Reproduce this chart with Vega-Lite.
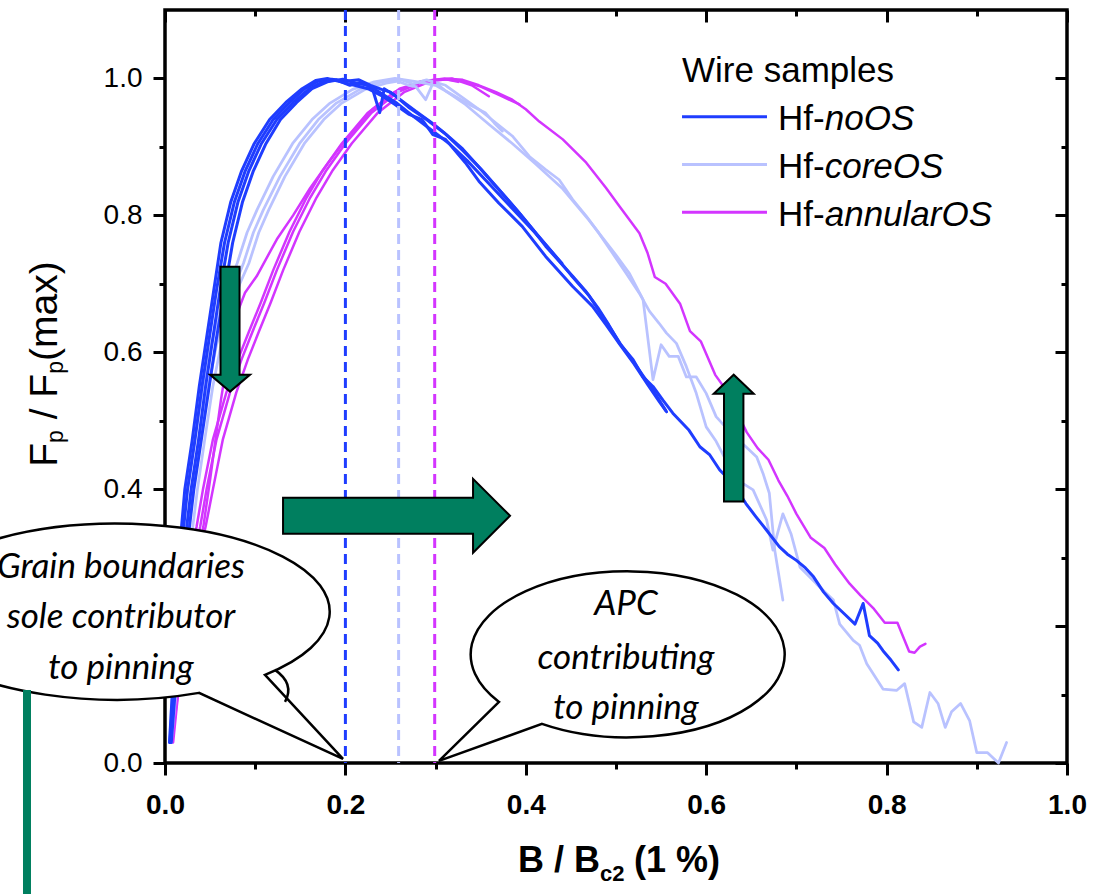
{
"$schema":"https://vega.github.io/schema/vega-lite/v6.json",
"width":902,"height":753,
"autosize":{"type":"none"},
"padding":{"left":165,"top":10,"right":34,"bottom":131},
"background":"white",
"config":{"view":{"stroke":"black","strokeWidth":3.5},"font":"Liberation Sans"},
"datasets":{
"curves":[
{"s":"annularOS","c":"a1","x":0.0074,"y":0.03},{"s":"annularOS","c":"a1","x":0.011,"y":0.082},{"s":"annularOS","c":"a1","x":0.016,"y":0.15},{"s":"annularOS","c":"a1","x":0.022,"y":0.22},{"s":"annularOS","c":"a1","x":0.03,"y":0.29},{"s":"annularOS","c":"a1","x":0.039,"y":0.345},{"s":"annularOS","c":"a1","x":0.046,"y":0.399},{"s":"annularOS","c":"a1","x":0.057,"y":0.472},{"s":"annularOS","c":"a1","x":0.072,"y":0.541},{"s":"annularOS","c":"a1","x":0.085,"y":0.59},{"s":"annularOS","c":"a1","x":0.097,"y":0.63},{"s":"annularOS","c":"a1","x":0.11,"y":0.672},{"s":"annularOS","c":"a1","x":0.124,"y":0.72},{"s":"annularOS","c":"a1","x":0.142,"y":0.776},{"s":"annularOS","c":"a1","x":0.161,"y":0.826},{"s":"annularOS","c":"a1","x":0.179,"y":0.866},{"s":"annularOS","c":"a1","x":0.2,"y":0.905},{"s":"annularOS","c":"a1","x":0.229,"y":0.95},{"s":"annularOS","c":"a1","x":0.258,"y":0.98},{"s":"annularOS","c":"a1","x":0.288,"y":0.996},{"s":"annularOS","c":"a1","x":0.31,"y":1.0},{"s":"annularOS","c":"a1","x":0.33,"y":0.998},{"s":"annularOS","c":"a1","x":0.348,"y":0.99},{"s":"annularOS","c":"a1","x":0.367,"y":0.98},{"s":"annularOS","c":"a1","x":0.385,"y":0.969},{"s":"annularOS","c":"a1","x":0.4,"y":0.955},{"s":"annularOS","c":"a1","x":0.415,"y":0.937},{"s":"annularOS","c":"a1","x":0.441,"y":0.911},{"s":"annularOS","c":"a1","x":0.467,"y":0.877},{"s":"annularOS","c":"a1","x":0.489,"y":0.84},{"s":"annularOS","c":"a1","x":0.504,"y":0.813},{"s":"annularOS","c":"a1","x":0.526,"y":0.774},{"s":"annularOS","c":"a1","x":0.535,"y":0.745},{"s":"annularOS","c":"a1","x":0.543,"y":0.71},{"s":"annularOS","c":"a1","x":0.555,"y":0.7},{"s":"annularOS","c":"a1","x":0.571,"y":0.671},{"s":"annularOS","c":"a1","x":0.582,"y":0.631},{"s":"annularOS","c":"a1","x":0.594,"y":0.616},{"s":"annularOS","c":"a1","x":0.61,"y":0.567},{"s":"annularOS","c":"a1","x":0.622,"y":0.545},{"s":"annularOS","c":"a1","x":0.633,"y":0.515},{"s":"annularOS","c":"a1","x":0.645,"y":0.483},{"s":"annularOS","c":"a1","x":0.657,"y":0.46},{"s":"annularOS","c":"a1","x":0.669,"y":0.443},{"s":"annularOS","c":"a1","x":0.68,"y":0.413},{"s":"annularOS","c":"a1","x":0.69,"y":0.39},{"s":"annularOS","c":"a1","x":0.7,"y":0.364},{"s":"annularOS","c":"a1","x":0.716,"y":0.329},{"s":"annularOS","c":"a1","x":0.731,"y":0.314},{"s":"annularOS","c":"a1","x":0.743,"y":0.29},{"s":"annularOS","c":"a1","x":0.759,"y":0.262},{"s":"annularOS","c":"a1","x":0.771,"y":0.245},{"s":"annularOS","c":"a1","x":0.786,"y":0.225},{"s":"annularOS","c":"a1","x":0.798,"y":0.205},{"s":"annularOS","c":"a1","x":0.812,"y":0.205},{"s":"annularOS","c":"a1","x":0.825,"y":0.163},{"s":"annularOS","c":"a1","x":0.831,"y":0.161},{"s":"annularOS","c":"a1","x":0.837,"y":0.17},{"s":"annularOS","c":"a1","x":0.843,"y":0.174},
{"s":"annularOS","c":"a2","x":0.009,"y":0.03},{"s":"annularOS","c":"a2","x":0.013,"y":0.082},{"s":"annularOS","c":"a2","x":0.019,"y":0.15},{"s":"annularOS","c":"a2","x":0.026,"y":0.22},{"s":"annularOS","c":"a2","x":0.035,"y":0.29},{"s":"annularOS","c":"a2","x":0.045,"y":0.345},{"s":"annularOS","c":"a2","x":0.053,"y":0.399},{"s":"annularOS","c":"a2","x":0.064,"y":0.472},{"s":"annularOS","c":"a2","x":0.079,"y":0.541},{"s":"annularOS","c":"a2","x":0.092,"y":0.59},{"s":"annularOS","c":"a2","x":0.104,"y":0.63},{"s":"annularOS","c":"a2","x":0.117,"y":0.672},{"s":"annularOS","c":"a2","x":0.131,"y":0.72},{"s":"annularOS","c":"a2","x":0.149,"y":0.776},{"s":"annularOS","c":"a2","x":0.168,"y":0.826},{"s":"annularOS","c":"a2","x":0.186,"y":0.866},{"s":"annularOS","c":"a2","x":0.207,"y":0.905},{"s":"annularOS","c":"a2","x":0.236,"y":0.95},{"s":"annularOS","c":"a2","x":0.265,"y":0.98},{"s":"annularOS","c":"a2","x":0.295,"y":0.996},{"s":"annularOS","c":"a2","x":0.318,"y":1.0},{"s":"annularOS","c":"a2","x":0.34,"y":0.99},{"s":"annularOS","c":"a2","x":0.359,"y":0.974},
{"s":"annularOS","c":"a3","x":0.006,"y":0.03},{"s":"annularOS","c":"a3","x":0.009,"y":0.082},{"s":"annularOS","c":"a3","x":0.013,"y":0.15},{"s":"annularOS","c":"a3","x":0.019,"y":0.22},{"s":"annularOS","c":"a3","x":0.026,"y":0.29},{"s":"annularOS","c":"a3","x":0.035,"y":0.345},{"s":"annularOS","c":"a3","x":0.042,"y":0.399},{"s":"annularOS","c":"a3","x":0.053,"y":0.472},{"s":"annularOS","c":"a3","x":0.068,"y":0.541},{"s":"annularOS","c":"a3","x":0.081,"y":0.59},{"s":"annularOS","c":"a3","x":0.093,"y":0.63},{"s":"annularOS","c":"a3","x":0.106,"y":0.672},{"s":"annularOS","c":"a3","x":0.12,"y":0.72},{"s":"annularOS","c":"a3","x":0.138,"y":0.776},{"s":"annularOS","c":"a3","x":0.157,"y":0.826},{"s":"annularOS","c":"a3","x":0.175,"y":0.866},{"s":"annularOS","c":"a3","x":0.196,"y":0.905},{"s":"annularOS","c":"a3","x":0.225,"y":0.95},{"s":"annularOS","c":"a3","x":0.254,"y":0.98},{"s":"annularOS","c":"a3","x":0.284,"y":0.996},{"s":"annularOS","c":"a3","x":0.31,"y":0.999},{"s":"annularOS","c":"a3","x":0.33,"y":0.996},{"s":"annularOS","c":"a3","x":0.35,"y":0.988},{"s":"annularOS","c":"a3","x":0.372,"y":0.975},{"s":"annularOS","c":"a3","x":0.393,"y":0.962},
{"s":"annularOS","c":"a4","x":0.008,"y":0.03},{"s":"annularOS","c":"a4","x":0.014,"y":0.1},{"s":"annularOS","c":"a4","x":0.025,"y":0.22},{"s":"annularOS","c":"a4","x":0.035,"y":0.3},{"s":"annularOS","c":"a4","x":0.0425,"y":0.345},{"s":"annularOS","c":"a4","x":0.05,"y":0.414},{"s":"annularOS","c":"a4","x":0.0554,"y":0.467},{"s":"annularOS","c":"a4","x":0.062,"y":0.53},{"s":"annularOS","c":"a4","x":0.068,"y":0.58},{"s":"annularOS","c":"a4","x":0.075,"y":0.64},{"s":"annularOS","c":"a4","x":0.0887,"y":0.687},{"s":"annularOS","c":"a4","x":0.1016,"y":0.711},{"s":"annularOS","c":"a4","x":0.124,"y":0.765},{"s":"annularOS","c":"a4","x":0.142,"y":0.8},{"s":"annularOS","c":"a4","x":0.161,"y":0.84},{"s":"annularOS","c":"a4","x":0.18,"y":0.875},{"s":"annularOS","c":"a4","x":0.2,"y":0.91},{"s":"annularOS","c":"a4","x":0.23,"y":0.955},{"s":"annularOS","c":"a4","x":0.26,"y":0.985},{"s":"annularOS","c":"a4","x":0.29,"y":0.997},{"s":"annularOS","c":"a4","x":0.31,"y":0.999},{"s":"annularOS","c":"a4","x":0.325,"y":0.995},
{"s":"coreOS","c":"c1","x":0.006,"y":0.03},{"s":"coreOS","c":"c1","x":0.01,"y":0.1},{"s":"coreOS","c":"c1","x":0.015,"y":0.2},{"s":"coreOS","c":"c1","x":0.02,"y":0.28},{"s":"coreOS","c":"c1","x":0.024,"y":0.326},{"s":"coreOS","c":"c1","x":0.031,"y":0.4},{"s":"coreOS","c":"c1","x":0.039,"y":0.472},{"s":"coreOS","c":"c1","x":0.048,"y":0.55},{"s":"coreOS","c":"c1","x":0.057,"y":0.61},{"s":"coreOS","c":"c1","x":0.068,"y":0.66},{"s":"coreOS","c":"c1","x":0.078,"y":0.7},{"s":"coreOS","c":"c1","x":0.087,"y":0.73},{"s":"coreOS","c":"c1","x":0.098,"y":0.775},{"s":"coreOS","c":"c1","x":0.109,"y":0.808},{"s":"coreOS","c":"c1","x":0.1275,"y":0.857},{"s":"coreOS","c":"c1","x":0.1497,"y":0.906},{"s":"coreOS","c":"c1","x":0.17,"y":0.94},{"s":"coreOS","c":"c1","x":0.19,"y":0.964},{"s":"coreOS","c":"c1","x":0.216,"y":0.984},{"s":"coreOS","c":"c1","x":0.24,"y":0.995},{"s":"coreOS","c":"c1","x":0.26,"y":0.999},{"s":"coreOS","c":"c1","x":0.275,"y":0.992},{"s":"coreOS","c":"c1","x":0.29,"y":0.998},{"s":"coreOS","c":"c1","x":0.311,"y":0.99},{"s":"coreOS","c":"c1","x":0.333,"y":0.969},{"s":"coreOS","c":"c1","x":0.348,"y":0.955},{"s":"coreOS","c":"c1","x":0.367,"y":0.935},{"s":"coreOS","c":"c1","x":0.385,"y":0.916},{"s":"coreOS","c":"c1","x":0.404,"y":0.886},{"s":"coreOS","c":"c1","x":0.422,"y":0.867},{"s":"coreOS","c":"c1","x":0.437,"y":0.852},{"s":"coreOS","c":"c1","x":0.452,"y":0.823},{"s":"coreOS","c":"c1","x":0.467,"y":0.799},{"s":"coreOS","c":"c1","x":0.481,"y":0.774},{"s":"coreOS","c":"c1","x":0.496,"y":0.745},{"s":"coreOS","c":"c1","x":0.511,"y":0.716},{"s":"coreOS","c":"c1","x":0.526,"y":0.686},{"s":"coreOS","c":"c1","x":0.537,"y":0.66},{"s":"coreOS","c":"c1","x":0.548,"y":0.642},{"s":"coreOS","c":"c1","x":0.556,"y":0.628},{"s":"coreOS","c":"c1","x":0.567,"y":0.613},{"s":"coreOS","c":"c1","x":0.578,"y":0.579},{"s":"coreOS","c":"c1","x":0.589,"y":0.54},{"s":"coreOS","c":"c1","x":0.6,"y":0.491},{"s":"coreOS","c":"c1","x":0.611,"y":0.47},{"s":"coreOS","c":"c1","x":0.622,"y":0.442},{"s":"coreOS","c":"c1","x":0.641,"y":0.408},{"s":"coreOS","c":"c1","x":0.652,"y":0.399},{"s":"coreOS","c":"c1","x":0.667,"y":0.355},{"s":"coreOS","c":"c1","x":0.674,"y":0.311},{"s":"coreOS","c":"c1","x":0.685,"y":0.364},{"s":"coreOS","c":"c1","x":0.694,"y":0.335},{"s":"coreOS","c":"c1","x":0.704,"y":0.286},{"s":"coreOS","c":"c1","x":0.722,"y":0.262},{"s":"coreOS","c":"c1","x":0.741,"y":0.238},{"s":"coreOS","c":"c1","x":0.748,"y":0.203},{"s":"coreOS","c":"c1","x":0.763,"y":0.179},{"s":"coreOS","c":"c1","x":0.77,"y":0.172},{"s":"coreOS","c":"c1","x":0.778,"y":0.145},{"s":"coreOS","c":"c1","x":0.796,"y":0.108},{"s":"coreOS","c":"c1","x":0.811,"y":0.106},{"s":"coreOS","c":"c1","x":0.82,"y":0.116},{"s":"coreOS","c":"c1","x":0.83,"y":0.06},{"s":"coreOS","c":"c1","x":0.839,"y":0.052},{"s":"coreOS","c":"c1","x":0.848,"y":0.103},{"s":"coreOS","c":"c1","x":0.857,"y":0.087},{"s":"coreOS","c":"c1","x":0.865,"y":0.052},{"s":"coreOS","c":"c1","x":0.872,"y":0.075},{"s":"coreOS","c":"c1","x":0.882,"y":0.087},{"s":"coreOS","c":"c1","x":0.892,"y":0.062},{"s":"coreOS","c":"c1","x":0.9,"y":0.015},{"s":"coreOS","c":"c1","x":0.912,"y":0.015},{"s":"coreOS","c":"c1","x":0.924,"y":0.0},{"s":"coreOS","c":"c1","x":0.933,"y":0.03},
{"s":"coreOS","c":"c2","x":0.007,"y":0.03},{"s":"coreOS","c":"c2","x":0.012,"y":0.1},{"s":"coreOS","c":"c2","x":0.018,"y":0.2},{"s":"coreOS","c":"c2","x":0.024,"y":0.28},{"s":"coreOS","c":"c2","x":0.029,"y":0.326},{"s":"coreOS","c":"c2","x":0.036,"y":0.4},{"s":"coreOS","c":"c2","x":0.044,"y":0.472},{"s":"coreOS","c":"c2","x":0.053,"y":0.55},{"s":"coreOS","c":"c2","x":0.062,"y":0.61},{"s":"coreOS","c":"c2","x":0.073,"y":0.66},{"s":"coreOS","c":"c2","x":0.083,"y":0.7},{"s":"coreOS","c":"c2","x":0.093,"y":0.73},{"s":"coreOS","c":"c2","x":0.104,"y":0.775},{"s":"coreOS","c":"c2","x":0.115,"y":0.808},{"s":"coreOS","c":"c2","x":0.133,"y":0.857},{"s":"coreOS","c":"c2","x":0.155,"y":0.906},{"s":"coreOS","c":"c2","x":0.176,"y":0.94},{"s":"coreOS","c":"c2","x":0.196,"y":0.964},{"s":"coreOS","c":"c2","x":0.222,"y":0.984},{"s":"coreOS","c":"c2","x":0.245,"y":0.993},{"s":"coreOS","c":"c2","x":0.258,"y":0.996},{"s":"coreOS","c":"c2","x":0.27,"y":0.99},{"s":"coreOS","c":"c2","x":0.278,"y":0.988},{"s":"coreOS","c":"c2","x":0.289,"y":0.969},{"s":"coreOS","c":"c2","x":0.298,"y":0.996},{"s":"coreOS","c":"c2","x":0.311,"y":0.982},{"s":"coreOS","c":"c2","x":0.333,"y":0.962},{"s":"coreOS","c":"c2","x":0.36,"y":0.932},{"s":"coreOS","c":"c2","x":0.385,"y":0.905},{"s":"coreOS","c":"c2","x":0.41,"y":0.876},{"s":"coreOS","c":"c2","x":0.44,"y":0.84},{"s":"coreOS","c":"c2","x":0.47,"y":0.793},{"s":"coreOS","c":"c2","x":0.5,"y":0.742},{"s":"coreOS","c":"c2","x":0.515,"y":0.715},{"s":"coreOS","c":"c2","x":0.53,"y":0.677},{"s":"coreOS","c":"c2","x":0.541,"y":0.56},{"s":"coreOS","c":"c2","x":0.55,"y":0.611},{"s":"coreOS","c":"c2","x":0.559,"y":0.594},{"s":"coreOS","c":"c2","x":0.569,"y":0.594},{"s":"coreOS","c":"c2","x":0.578,"y":0.564},{"s":"coreOS","c":"c2","x":0.589,"y":0.564},{"s":"coreOS","c":"c2","x":0.6,"y":0.54},{"s":"coreOS","c":"c2","x":0.611,"y":0.506},{"s":"coreOS","c":"c2","x":0.622,"y":0.49},{"s":"coreOS","c":"c2","x":0.633,"y":0.475},{"s":"coreOS","c":"c2","x":0.644,"y":0.462},{"s":"coreOS","c":"c2","x":0.656,"y":0.447},{"s":"coreOS","c":"c2","x":0.663,"y":0.423},{"s":"coreOS","c":"c2","x":0.67,"y":0.394},{"s":"coreOS","c":"c2","x":0.676,"y":0.311},{"s":"coreOS","c":"c2","x":0.685,"y":0.238},
{"s":"coreOS","c":"c3","x":0.005,"y":0.03},{"s":"coreOS","c":"c3","x":0.008,"y":0.1},{"s":"coreOS","c":"c3","x":0.011,"y":0.2},{"s":"coreOS","c":"c3","x":0.015,"y":0.28},{"s":"coreOS","c":"c3","x":0.018,"y":0.326},{"s":"coreOS","c":"c3","x":0.025,"y":0.4},{"s":"coreOS","c":"c3","x":0.033,"y":0.472},{"s":"coreOS","c":"c3","x":0.042,"y":0.55},{"s":"coreOS","c":"c3","x":0.051,"y":0.61},{"s":"coreOS","c":"c3","x":0.061,"y":0.66},{"s":"coreOS","c":"c3","x":0.071,"y":0.7},{"s":"coreOS","c":"c3","x":0.08,"y":0.73},{"s":"coreOS","c":"c3","x":0.091,"y":0.775},{"s":"coreOS","c":"c3","x":0.102,"y":0.808},{"s":"coreOS","c":"c3","x":0.12,"y":0.857},{"s":"coreOS","c":"c3","x":0.142,"y":0.906},{"s":"coreOS","c":"c3","x":0.163,"y":0.94},{"s":"coreOS","c":"c3","x":0.183,"y":0.964},{"s":"coreOS","c":"c3","x":0.208,"y":0.984},{"s":"coreOS","c":"c3","x":0.232,"y":0.995},{"s":"coreOS","c":"c3","x":0.255,"y":1.0},{"s":"coreOS","c":"c3","x":0.28,"y":0.995},{"s":"coreOS","c":"c3","x":0.3,"y":0.99},{"s":"coreOS","c":"c3","x":0.32,"y":0.975},{"s":"coreOS","c":"c3","x":0.34,"y":0.96},{"s":"coreOS","c":"c3","x":0.355,"y":0.95},{"s":"coreOS","c":"c3","x":0.365,"y":0.935},{"s":"coreOS","c":"c3","x":0.374,"y":0.923},
{"s":"noOS","c":"n1","x":0.0055,"y":0.03},{"s":"noOS","c":"n1","x":0.009,"y":0.1},{"s":"noOS","c":"n1","x":0.013,"y":0.2},{"s":"noOS","c":"n1","x":0.018,"y":0.31},{"s":"noOS","c":"n1","x":0.025,"y":0.4},{"s":"noOS","c":"n1","x":0.033,"y":0.47},{"s":"noOS","c":"n1","x":0.041,"y":0.55},{"s":"noOS","c":"n1","x":0.049,"y":0.62},{"s":"noOS","c":"n1","x":0.057,"y":0.69},{"s":"noOS","c":"n1","x":0.066,"y":0.76},{"s":"noOS","c":"n1","x":0.077,"y":0.82},{"s":"noOS","c":"n1","x":0.089,"y":0.865},{"s":"noOS","c":"n1","x":0.103,"y":0.905},{"s":"noOS","c":"n1","x":0.12,"y":0.94},{"s":"noOS","c":"n1","x":0.138,"y":0.965},{"s":"noOS","c":"n1","x":0.155,"y":0.985},{"s":"noOS","c":"n1","x":0.17,"y":0.996},{"s":"noOS","c":"n1","x":0.185,"y":0.999},{"s":"noOS","c":"n1","x":0.2,"y":0.996},{"s":"noOS","c":"n1","x":0.215,"y":0.998},{"s":"noOS","c":"n1","x":0.228,"y":0.99},{"s":"noOS","c":"n1","x":0.24,"y":0.984},{"s":"noOS","c":"n1","x":0.25,"y":0.98},{"s":"noOS","c":"n1","x":0.262,"y":0.968},{"s":"noOS","c":"n1","x":0.278,"y":0.952},{"s":"noOS","c":"n1","x":0.296,"y":0.935},{"s":"noOS","c":"n1","x":0.312,"y":0.918},{"s":"noOS","c":"n1","x":0.33,"y":0.897},{"s":"noOS","c":"n1","x":0.347,"y":0.872},{"s":"noOS","c":"n1","x":0.363,"y":0.848},{"s":"noOS","c":"n1","x":0.378,"y":0.826},{"s":"noOS","c":"n1","x":0.393,"y":0.803},{"s":"noOS","c":"n1","x":0.408,"y":0.779},{"s":"noOS","c":"n1","x":0.422,"y":0.755},{"s":"noOS","c":"n1","x":0.437,"y":0.733},{"s":"noOS","c":"n1","x":0.452,"y":0.711},{"s":"noOS","c":"n1","x":0.466,"y":0.69},{"s":"noOS","c":"n1","x":0.48,"y":0.665},{"s":"noOS","c":"n1","x":0.492,"y":0.64},{"s":"noOS","c":"n1","x":0.504,"y":0.613},{"s":"noOS","c":"n1","x":0.519,"y":0.589},{"s":"noOS","c":"n1","x":0.53,"y":0.564},{"s":"noOS","c":"n1","x":0.541,"y":0.55},{"s":"noOS","c":"n1","x":0.552,"y":0.53},{"s":"noOS","c":"n1","x":0.563,"y":0.511},{"s":"noOS","c":"n1","x":0.581,"y":0.486},{"s":"noOS","c":"n1","x":0.593,"y":0.462},{"s":"noOS","c":"n1","x":0.604,"y":0.45},{"s":"noOS","c":"n1","x":0.615,"y":0.428},{"s":"noOS","c":"n1","x":0.63,"y":0.408},{"s":"noOS","c":"n1","x":0.644,"y":0.379},{"s":"noOS","c":"n1","x":0.655,"y":0.36},{"s":"noOS","c":"n1","x":0.667,"y":0.34},{"s":"noOS","c":"n1","x":0.681,"y":0.316},{"s":"noOS","c":"n1","x":0.69,"y":0.305},{"s":"noOS","c":"n1","x":0.7,"y":0.296},{"s":"noOS","c":"n1","x":0.71,"y":0.285},{"s":"noOS","c":"n1","x":0.719,"y":0.272},{"s":"noOS","c":"n1","x":0.73,"y":0.25},{"s":"noOS","c":"n1","x":0.741,"y":0.233},{"s":"noOS","c":"n1","x":0.753,"y":0.218},{"s":"noOS","c":"n1","x":0.765,"y":0.203},{"s":"noOS","c":"n1","x":0.774,"y":0.233},{"s":"noOS","c":"n1","x":0.781,"y":0.186},{"s":"noOS","c":"n1","x":0.79,"y":0.175},{"s":"noOS","c":"n1","x":0.796,"y":0.164},{"s":"noOS","c":"n1","x":0.805,"y":0.15},{"s":"noOS","c":"n1","x":0.813,"y":0.136},
{"s":"noOS","c":"n2","x":0.006,"y":0.03},{"s":"noOS","c":"n2","x":0.01,"y":0.1},{"s":"noOS","c":"n2","x":0.015,"y":0.2},{"s":"noOS","c":"n2","x":0.021,"y":0.31},{"s":"noOS","c":"n2","x":0.029,"y":0.4},{"s":"noOS","c":"n2","x":0.037,"y":0.47},{"s":"noOS","c":"n2","x":0.045,"y":0.55},{"s":"noOS","c":"n2","x":0.053,"y":0.62},{"s":"noOS","c":"n2","x":0.061,"y":0.69},{"s":"noOS","c":"n2","x":0.07,"y":0.76},{"s":"noOS","c":"n2","x":0.081,"y":0.82},{"s":"noOS","c":"n2","x":0.093,"y":0.865},{"s":"noOS","c":"n2","x":0.107,"y":0.905},{"s":"noOS","c":"n2","x":0.124,"y":0.94},{"s":"noOS","c":"n2","x":0.142,"y":0.965},{"s":"noOS","c":"n2","x":0.16,"y":0.985},{"s":"noOS","c":"n2","x":0.175,"y":0.995},{"s":"noOS","c":"n2","x":0.19,"y":0.998},{"s":"noOS","c":"n2","x":0.205,"y":0.99},{"s":"noOS","c":"n2","x":0.218,"y":0.995},{"s":"noOS","c":"n2","x":0.23,"y":0.985},{"s":"noOS","c":"n2","x":0.238,"y":0.95},{"s":"noOS","c":"n2","x":0.243,"y":0.985},{"s":"noOS","c":"n2","x":0.255,"y":0.975},{"s":"noOS","c":"n2","x":0.27,"y":0.958},{"s":"noOS","c":"n2","x":0.29,"y":0.94},{"s":"noOS","c":"n2","x":0.31,"y":0.92},{"s":"noOS","c":"n2","x":0.33,"y":0.895},{"s":"noOS","c":"n2","x":0.35,"y":0.868},{"s":"noOS","c":"n2","x":0.37,"y":0.838},{"s":"noOS","c":"n2","x":0.39,"y":0.808},{"s":"noOS","c":"n2","x":0.41,"y":0.776},{"s":"noOS","c":"n2","x":0.43,"y":0.745},{"s":"noOS","c":"n2","x":0.45,"y":0.713},{"s":"noOS","c":"n2","x":0.47,"y":0.683},{"s":"noOS","c":"n2","x":0.49,"y":0.643},{"s":"noOS","c":"n2","x":0.505,"y":0.612},{"s":"noOS","c":"n2","x":0.52,"y":0.585},{"s":"noOS","c":"n2","x":0.535,"y":0.556},{"s":"noOS","c":"n2","x":0.548,"y":0.53},{"s":"noOS","c":"n2","x":0.556,"y":0.513},
{"s":"noOS","c":"n3","x":0.005,"y":0.03},{"s":"noOS","c":"n3","x":0.008,"y":0.1},{"s":"noOS","c":"n3","x":0.012,"y":0.2},{"s":"noOS","c":"n3","x":0.016,"y":0.31},{"s":"noOS","c":"n3","x":0.022,"y":0.4},{"s":"noOS","c":"n3","x":0.03,"y":0.47},{"s":"noOS","c":"n3","x":0.038,"y":0.55},{"s":"noOS","c":"n3","x":0.046,"y":0.62},{"s":"noOS","c":"n3","x":0.054,"y":0.69},{"s":"noOS","c":"n3","x":0.062,"y":0.76},{"s":"noOS","c":"n3","x":0.073,"y":0.82},{"s":"noOS","c":"n3","x":0.085,"y":0.865},{"s":"noOS","c":"n3","x":0.099,"y":0.905},{"s":"noOS","c":"n3","x":0.116,"y":0.94},{"s":"noOS","c":"n3","x":0.134,"y":0.965},{"s":"noOS","c":"n3","x":0.152,"y":0.985},{"s":"noOS","c":"n3","x":0.167,"y":0.997},{"s":"noOS","c":"n3","x":0.18,"y":1.0},{"s":"noOS","c":"n3","x":0.195,"y":0.995},{"s":"noOS","c":"n3","x":0.21,"y":0.99},{"s":"noOS","c":"n3","x":0.225,"y":0.985},{"s":"noOS","c":"n3","x":0.24,"y":0.975},{"s":"noOS","c":"n3","x":0.255,"y":0.962},{"s":"noOS","c":"n3","x":0.27,"y":0.948},{"s":"noOS","c":"n3","x":0.285,"y":0.94},{"s":"noOS","c":"n3","x":0.297,"y":0.918},{"s":"noOS","c":"n3","x":0.311,"y":0.911},{"s":"noOS","c":"n3","x":0.333,"y":0.877},{"s":"noOS","c":"n3","x":0.348,"y":0.85},{"s":"noOS","c":"n3","x":0.37,"y":0.818},{"s":"noOS","c":"n3","x":0.396,"y":0.784},{"s":"noOS","c":"n3","x":0.422,"y":0.74},{"s":"noOS","c":"n3","x":0.452,"y":0.696},{"s":"noOS","c":"n3","x":0.474,"y":0.667},{"s":"noOS","c":"n3","x":0.489,"y":0.64},{"s":"noOS","c":"n3","x":0.505,"y":0.61},{"s":"noOS","c":"n3","x":0.52,"y":0.583},{"s":"noOS","c":"n3","x":0.535,"y":0.553},{"s":"noOS","c":"n3","x":0.548,"y":0.528},{"s":"noOS","c":"n3","x":0.555,"y":0.515},
{"s":"noOS","c":"n4","x":0.007,"y":0.03},{"s":"noOS","c":"n4","x":0.011,"y":0.1},{"s":"noOS","c":"n4","x":0.017,"y":0.2},{"s":"noOS","c":"n4","x":0.024,"y":0.31},{"s":"noOS","c":"n4","x":0.032,"y":0.4},{"s":"noOS","c":"n4","x":0.04,"y":0.47},{"s":"noOS","c":"n4","x":0.049,"y":0.55},{"s":"noOS","c":"n4","x":0.057,"y":0.62},{"s":"noOS","c":"n4","x":0.066,"y":0.69},{"s":"noOS","c":"n4","x":0.075,"y":0.76},{"s":"noOS","c":"n4","x":0.086,"y":0.82},{"s":"noOS","c":"n4","x":0.098,"y":0.865},{"s":"noOS","c":"n4","x":0.112,"y":0.905},{"s":"noOS","c":"n4","x":0.128,"y":0.94},{"s":"noOS","c":"n4","x":0.146,"y":0.965},{"s":"noOS","c":"n4","x":0.163,"y":0.985},{"s":"noOS","c":"n4","x":0.18,"y":0.995},{"s":"noOS","c":"n4","x":0.197,"y":0.999},{"s":"noOS","c":"n4","x":0.212,"y":0.993},{"s":"noOS","c":"n4","x":0.226,"y":0.99},{"s":"noOS","c":"n4","x":0.24,"y":0.978},{"s":"noOS","c":"n4","x":0.256,"y":0.965},{"s":"noOS","c":"n4","x":0.275,"y":0.945},{"s":"noOS","c":"n4","x":0.295,"y":0.925},{"s":"noOS","c":"n4","x":0.315,"y":0.905},{"s":"noOS","c":"n4","x":0.335,"y":0.88},{"s":"noOS","c":"n4","x":0.36,"y":0.845},{"s":"noOS","c":"n4","x":0.385,"y":0.81},{"s":"noOS","c":"n4","x":0.41,"y":0.775},{"s":"noOS","c":"n4","x":0.44,"y":0.73}
],
"vlines":[{"s":"noOS","x":0.2},{"s":"coreOS","x":0.259},{"s":"annularOS","x":0.299}],
"downArrow":[{"x":0.0721,"y":0.6338}],
"rightArrow":[{"x":0.2567,"y":0.3611}],
"upArrow":[{"x":0.6305,"y":0.4747}],
"leftBubble":[{"x":-0.05543,"y":0.22076}],
"rightBubble":[{"x":0.51109,"y":0.16374}],
"bubbleText":[{"x":-0.0488,"y":0.2705,"t":"Grain boundaries"},{"x":-0.0488,"y":0.1974,"t":"sole contributor"},{"x":-0.0488,"y":0.1228,"t":"to pinning"},{"x":0.5111,"y":0.2164,"t":"APC"},{"x":0.5111,"y":0.1374,"t":"contributing"},{"x":0.5111,"y":0.0636,"t":"to pinning"}],
"legendLines":[{"s":"noOS","x":0.5732,"x2":0.6674,"y":0.944},{"s":"coreOS","x":0.5732,"x2":0.6674,"y":0.8743},{"s":"annularOS","x":0.5732,"x2":0.6674,"y":0.8046}],
"legendText":[{"x":0.5732,"y":0.9942,"t":"Wire samples"},{"x":0.6796,"y":0.9244,"t":"Hf-"},{"x":0.6796,"y":0.8548,"t":"Hf-"},{"x":0.6796,"y":0.7851,"t":"Hf-"}],
"legendItalic":[{"x":0.7314,"y":0.9244,"t":"noOS"},{"x":0.7314,"y":0.8548,"t":"coreOS"},{"x":0.7314,"y":0.7851,"t":"annularOS"}],
"yTitle":[{"x":-0.11973,"y":0.43275,"t":"F"},{"x":-0.11973,"y":0.50205,"t":"/ F"},{"x":-0.11973,"y":0.58743,"t":"(max)"}],
"yTitleSub":[{"x":-0.11308,"y":0.46754,"t":"p"},{"x":-0.11308,"y":0.56871,"t":"p"}],
"xTitle":[{"x":0.39135,"y":-0.15936,"t":"B / B"},{"x":0.51996,"y":-0.15936,"t":"(1 %)"}],
"xTitleSub":[{"x":0.48226,"y":-0.17251,"t":"c2"}],
"greenLine":[{"x":-0.153,"y":0.1067,"y2":-0.2}]
},
"layer":[
{"data":{"name":"curves"},
 "mark":{"type":"line","strokeJoin":"round","strokeCap":"round"},
 "encoding":{
  "x":{"field":"x","type":"quantitative","scale":{"domain":[0,1],"nice":false,"zero":false},
   "axis":{"orient":"bottom","values":[0,0.2,0.4,0.6,0.8,1],"format":".1f","title":null,"grid":false,"domain":false,"tickSize":12,"tickWidth":3,"tickColor":"black","labelFont":"Liberation Sans","labelFontSize":28,"labelFontWeight":"bold","labelColor":"black","labelPadding":16,"labelFlush":false,"labelOverlap":false,"labelBound":false}},
  "y":{"field":"y","type":"quantitative","scale":{"domain":[0,1.1],"nice":false,"zero":false},
   "axis":{"orient":"left","values":[0,0.2,0.4,0.6,0.8,1],"format":".1f","title":null,"grid":false,"domain":false,"tickSize":12,"tickWidth":3,"tickColor":"black","labelFont":"Liberation Sans","labelFontSize":28,"labelColor":"black","labelPadding":11,"labelFlush":false,"labelOverlap":false,"labelBound":false}},
  "color":{"field":"s","type":"nominal","scale":{"domain":["noOS","coreOS","annularOS"],"range":["#1F3DFF","#B9C2FF","#D335FF"]},"legend":null},
  "strokeWidth":{"field":"s","type":"nominal","scale":{"domain":["noOS","coreOS","annularOS"],"range":[3,2.5,2.2]},"legend":null},
  "detail":{"field":"c"}
 }},
{"data":{"name":"vlines"},
 "mark":{"type":"rule","strokeDash":[10,6],"strokeWidth":3},
 "encoding":{
  "x":{"field":"x","type":"quantitative","scale":{"domain":[0,1],"nice":false,"zero":false},
   "axis":{"orient":"bottom","values":[0.1,0.3,0.5,0.7,0.9],"labels":false,"title":null,"grid":false,"domain":false,"tickSize":6,"tickWidth":3,"tickColor":"black"}},
  "color":{"field":"s","type":"nominal","scale":{"domain":["noOS","coreOS","annularOS"],"range":["#1F3DFF","#B9C2FF","#D335FF"]},"legend":null}
 }},
{"data":{"name":"downArrow"},
 "mark":{"type":"point","shape":"M-9.5,-62.5L9.5,-62.5L9.5,45.5L20,45.5L0,62.5L-20,45.5L-9.5,45.5Z","size":4,"filled":true,"fill":"#007F5F","stroke":"black","strokeWidth":2,"opacity":1},
 "encoding":{
  "x":{"field":"x","type":"quantitative","scale":{"domain":[0,1],"nice":false,"zero":false},
   "axis":{"orient":"top","values":[0,0.2,0.4,0.6,0.8,1],"labels":false,"title":null,"grid":false,"domain":false,"tickSize":-12,"tickWidth":3,"tickColor":"black"}},
  "y":{"field":"y","type":"quantitative","scale":{"domain":[0,1.1],"nice":false,"zero":false},
   "axis":{"orient":"left","values":[0.1,0.3,0.5,0.7,0.9],"labels":false,"title":null,"grid":false,"domain":false,"tickSize":6,"tickWidth":3,"tickColor":"black"}}
 }},
{"data":{"name":"rightArrow"},
 "mark":{"type":"point","shape":"M-113.5,-18L76.5,-18L76.5,-37L113.5,0L76.5,37L76.5,18L-113.5,18Z","size":4,"filled":true,"fill":"#007F5F","stroke":"black","strokeWidth":2,"opacity":1},
 "encoding":{
  "x":{"field":"x","type":"quantitative","scale":{"domain":[0,1],"nice":false,"zero":false},
   "axis":{"orient":"top","values":[0.1,0.3,0.5,0.7,0.9],"labels":false,"title":null,"grid":false,"domain":false,"tickSize":-6,"tickWidth":3,"tickColor":"black"}},
  "y":{"field":"y","type":"quantitative","scale":{"domain":[0,1.1],"nice":false,"zero":false},
   "axis":{"orient":"right","values":[0,0.2,0.4,0.6,0.8,1],"labels":false,"title":null,"grid":false,"domain":false,"tickSize":-12,"tickWidth":3,"tickColor":"black"}}
 }},
{"data":{"name":"upArrow"},
 "mark":{"type":"point","shape":"M-9.7,63.4L9.7,63.4L9.7,-44.3L20,-44.3L0,-63.3L-20,-44.3L-9.7,-44.3Z","size":4,"filled":true,"fill":"#007F5F","stroke":"black","strokeWidth":2,"opacity":1},
 "encoding":{
  "x":{"field":"x","type":"quantitative","scale":{"domain":[0,1],"nice":false,"zero":false},"axis":null},
  "y":{"field":"y","type":"quantitative","scale":{"domain":[0,1.1],"nice":false,"zero":false},
   "axis":{"orient":"right","values":[0.1,0.3,0.5,0.7,0.9],"labels":false,"title":null,"grid":false,"domain":false,"tickSize":-6,"tickWidth":3,"tickColor":"black"}}
 }},
{"data":{"name":"leftBubble"},
 "mark":{"type":"point","shape":"M150,63L228,147L84,81A213,88,0,1,1,150,63Z","size":4,"filled":true,"fill":"white","stroke":"black","strokeWidth":2.5,"opacity":1},
 "encoding":{
  "x":{"field":"x","type":"quantitative","scale":{"domain":[0,1],"nice":false,"zero":false},"axis":null},
  "y":{"field":"y","type":"quantitative","scale":{"domain":[0,1.1],"nice":false,"zero":false},"axis":null}
 }},
{"data":{"name":"leftBubble"},
 "mark":{"type":"point","shape":"M160,58Q180,72,170,90","size":4,"filled":false,"stroke":"black","strokeWidth":2.5,"opacity":1},
 "encoding":{
  "x":{"field":"x","type":"quantitative","scale":{"domain":[0,1],"nice":false,"zero":false},"axis":null},
  "y":{"field":"y","type":"quantitative","scale":{"domain":[0,1.1],"nice":false,"zero":false},"axis":null}
 }},
{"data":{"name":"rightBubble"},
 "mark":{"type":"point","shape":"M-127,51L-187,110L-84,73A157,83,0,1,0,-127,51Z","size":4,"filled":true,"fill":"white","stroke":"black","strokeWidth":2.5,"opacity":1},
 "encoding":{
  "x":{"field":"x","type":"quantitative","scale":{"domain":[0,1],"nice":false,"zero":false},"axis":null},
  "y":{"field":"y","type":"quantitative","scale":{"domain":[0,1.1],"nice":false,"zero":false},"axis":null}
 }},
{"data":{"name":"bubbleText"},
 "mark":{"type":"text","font":"Lato","fontStyle":"italic","fontSize":35,"align":"center","baseline":"alphabetic","color":"black"},
 "encoding":{
  "x":{"field":"x","type":"quantitative","scale":{"domain":[0,1],"nice":false,"zero":false},"axis":null},
  "y":{"field":"y","type":"quantitative","scale":{"domain":[0,1.1],"nice":false,"zero":false},"axis":null},
  "text":{"field":"t"}
 }},
{"data":{"name":"legendLines"},
 "mark":{"type":"rule","strokeWidth":3},
 "encoding":{
  "x":{"field":"x","type":"quantitative","scale":{"domain":[0,1],"nice":false,"zero":false},"axis":null},
  "x2":{"field":"x2"},
  "y":{"field":"y","type":"quantitative","scale":{"domain":[0,1.1],"nice":false,"zero":false},"axis":null},
  "color":{"field":"s","type":"nominal","scale":{"domain":["noOS","coreOS","annularOS"],"range":["#1F3DFF","#B9C2FF","#D335FF"]},"legend":null}
 }},
{"data":{"name":"legendText"},
 "mark":{"type":"text","font":"Liberation Sans","fontSize":35,"align":"left","baseline":"alphabetic","color":"black"},
 "encoding":{
  "x":{"field":"x","type":"quantitative","scale":{"domain":[0,1],"nice":false,"zero":false},"axis":null},
  "y":{"field":"y","type":"quantitative","scale":{"domain":[0,1.1],"nice":false,"zero":false},"axis":null},
  "text":{"field":"t"}
 }},
{"data":{"name":"legendItalic"},
 "mark":{"type":"text","font":"Liberation Sans","fontStyle":"italic","fontSize":35,"align":"left","baseline":"alphabetic","color":"black"},
 "encoding":{
  "x":{"field":"x","type":"quantitative","scale":{"domain":[0,1],"nice":false,"zero":false},"axis":null},
  "y":{"field":"y","type":"quantitative","scale":{"domain":[0,1.1],"nice":false,"zero":false},"axis":null},
  "text":{"field":"t"}
 }},
{"data":{"name":"yTitle"},
 "mark":{"type":"text","font":"Liberation Sans","fontSize":39,"angle":270,"align":"left","baseline":"alphabetic","color":"black"},
 "encoding":{
  "x":{"field":"x","type":"quantitative","scale":{"domain":[0,1],"nice":false,"zero":false},"axis":null},
  "y":{"field":"y","type":"quantitative","scale":{"domain":[0,1.1],"nice":false,"zero":false},"axis":null},
  "text":{"field":"t"}
 }},
{"data":{"name":"yTitleSub"},
 "mark":{"type":"text","font":"Liberation Sans","fontSize":23,"angle":270,"align":"left","baseline":"alphabetic","color":"black"},
 "encoding":{
  "x":{"field":"x","type":"quantitative","scale":{"domain":[0,1],"nice":false,"zero":false},"axis":null},
  "y":{"field":"y","type":"quantitative","scale":{"domain":[0,1.1],"nice":false,"zero":false},"axis":null},
  "text":{"field":"t"}
 }},
{"data":{"name":"xTitle"},
 "mark":{"type":"text","font":"Liberation Sans","fontSize":36,"fontWeight":"bold","align":"left","baseline":"alphabetic","color":"black"},
 "encoding":{
  "x":{"field":"x","type":"quantitative","scale":{"domain":[0,1],"nice":false,"zero":false},"axis":null},
  "y":{"field":"y","type":"quantitative","scale":{"domain":[0,1.1],"nice":false,"zero":false},"axis":null},
  "text":{"field":"t"}
 }},
{"data":{"name":"xTitleSub"},
 "mark":{"type":"text","font":"Liberation Sans","fontSize":22,"fontWeight":"bold","align":"left","baseline":"alphabetic","color":"black"},
 "encoding":{
  "x":{"field":"x","type":"quantitative","scale":{"domain":[0,1],"nice":false,"zero":false},"axis":null},
  "y":{"field":"y","type":"quantitative","scale":{"domain":[0,1.1],"nice":false,"zero":false},"axis":null},
  "text":{"field":"t"}
 }},
{"data":{"name":"greenLine"},
 "mark":{"type":"rule","strokeWidth":8,"color":"#007F5F"},
 "encoding":{
  "x":{"field":"x","type":"quantitative","scale":{"domain":[0,1],"nice":false,"zero":false},"axis":null},
  "y":{"field":"y","type":"quantitative","scale":{"domain":[0,1.1],"nice":false,"zero":false},"axis":null},
  "y2":{"field":"y2"}
 }}
],
"resolve":{"axis":{"x":"independent","y":"independent"}}
}
